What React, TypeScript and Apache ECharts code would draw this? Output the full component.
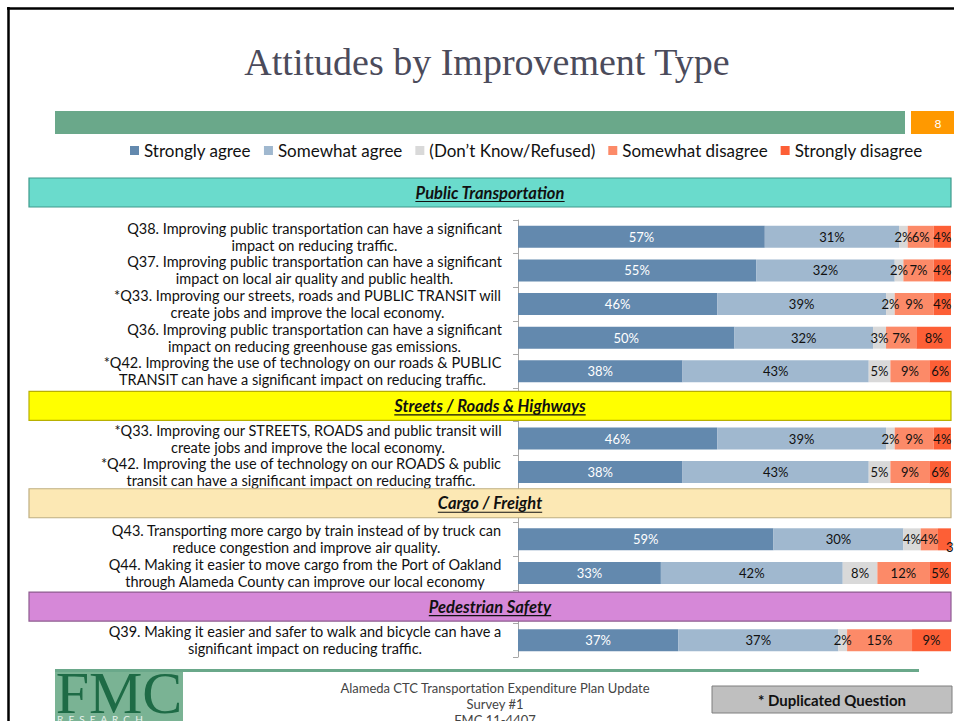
import React, { useEffect, useRef } from "react";
import * as echarts from "echarts";

const seriesNames = [
  "Strongly agree",
  "Somewhat agree",
  "(Don\u2019t Know/Refused)",
  "Somewhat disagree",
  "Strongly disagree",
];
const seriesColors = ["#6389AE", "#A0B8CF", "#D9D9D9", "#FC8A68", "#FD5F36"];
const labelColors = ["#FFFFFF", "#111111", "#111111", "#111111", "#111111"];

// "#Hn" entries are section header slots (no bars)
const categories = [
  "Q38. Improving public transportation can have a significant\nimpact on reducing traffic.",
  "Q37. Improving public transportation can have a significant\nimpact on local air quality and public health.",
  "*Q33. Improving our streets, roads and PUBLIC TRANSIT will\ncreate jobs and improve the local economy.",
  "Q36. Improving public transportation can have a significant\nimpact on reducing greenhouse gas emissions.",
  "*Q42. Improving the use of technology on our roads & PUBLIC\nTRANSIT can have a significant impact on reducing traffic.",
  "#H2",
  "*Q33. Improving our STREETS, ROADS and public transit will\ncreate jobs and improve the local economy.",
  "*Q42. Improving the use of technology on our ROADS & public\ntransit can have a significant impact on reducing traffic.",
  "#H3",
  "Q43. Transporting more cargo by train instead of by truck can\nreduce congestion and improve air quality.",
  "Q44. Making it easier to move cargo from the Port of Oakland\nthrough Alameda County can improve our local economy",
  "#H4",
  "Q39. Making it easier and safer to walk and bicycle can have a\nsignificant impact on reducing traffic.",
];

const stronglyAgree = [57, 55, 46, 50, 38, null, 46, 38, null, 59, 33, null, 37];
const somewhatAgree = [31, 32, 39, 32, 43, null, 39, 43, null, 30, 42, null, 37];
const dontKnow = [2, 2, 2, 3, 5, null, 2, 5, null, 4, 8, null, 2];
const somewhatDisagree = [6, 7, 9, 7, 9, null, 9, 9, null, 4, 12, null, 15];
const stronglyDisagree = [4, 4, 4, 8, 6, null, 4, 6, null, 3, 5, null, 9];
const seriesValues = [stronglyAgree, somewhatAgree, dontKnow, somewhatDisagree, stronglyDisagree];

const sectionTitles = [
  "Public Transportation",
  "Streets / Roads & Highways",
  "Cargo / Freight",
  "Pedestrian Safety",
];
const sectionKeys = ["", "#H2", "#H3", "#H4"];
const sectionNudge = [0, 1, -2.5, 0];
const sectionFills = ["#6ADBCC", "#FFFF00", "#FCE8B4", "#D688D8"];
const sectionStrokes = ["#3E9A8C", "#B8B000", "#BFAE80", "#8E5C90"];

const FONT = "Lato, 'Open Sans', sans-serif";
const CAT_FS = 14.5;

function measure(text: string, font: string): number {
  const c = document.createElement("canvas").getContext("2d");
  if (!c) return text.length * 7;
  c.font = font;
  return c.measureText(text).width;
}

export default function App() {
  const ref = useRef<HTMLDivElement>(null);

  useEffect(() => {
    if (!ref.current) return;
    const chart = echarts.init(ref.current, null, { renderer: "svg" });

    // category label blocks: right-aligned block, lines centred within it
    const rich: Record<string, any> = {};
    categories.forEach((c, i) => {
      const lines = c.split("\n");
      const w = Math.max(...lines.map((l) => measure(l, `${CAT_FS}px Lato`)));
      rich["c" + i] = {
        width: Math.ceil(w) + 2,
        align: "center",
        fontSize: CAT_FS,
        lineHeight: 17,
        fontFamily: FONT,
        color: "#111",
      };
    });

    const series = seriesNames.map((name, i) => ({
      name,
      type: "bar",
      stack: "total",
      barWidth: 22,
      itemStyle: { color: seriesColors[i] },
      label: {
        show: true,
        position: "inside",
        formatter: (p: any) => (p.value == null ? "" : p.value + "%"),
        color: labelColors[i],
        fontSize: 13,
        fontFamily: FONT,
      },
      data: seriesValues[i].map((v, j) =>
        i === 4 && j === 9
          ? { value: v, label: { position: "right", offset: [-10, 8] } }
          : v
      ),
    }));

    chart.setOption({
      animation: false,
      backgroundColor: "#FFFFFF",
      legend: {
        data: seriesNames,
        top: 137,
        left: 125,
        icon: "rect",
        itemWidth: 9,
        itemHeight: 9,
        itemGap: 13,
        textStyle: { fontSize: 17, fontFamily: FONT, color: "#111" },
      },
      grid: { left: 518, top: 220, width: 433, height: 437, containLabel: false },
      xAxis: { type: "value", min: 0, max: 100, show: false },
      yAxis: {
        type: "category",
        inverse: true,
        data: categories,
        axisLine: { show: true, lineStyle: { color: "#A6A6A6" } },
        axisTick: { show: true, length: 5, interval: 0, lineStyle: { color: "#A6A6A6" } },
        splitLine: { show: false },
        axisLabel: {
          interval: 0,
          formatter: (v: string, idx: number) =>
            v.startsWith("#H")
              ? ""
              : v
                  .split("\n")
                  .map((l) => `{c${idx}|${l}}`)
                  .join("\n"),
          align: "right",
          margin: 15,
          fontSize: CAT_FS,
          lineHeight: 17,
          color: "#111",
          fontFamily: FONT,
          rich,
        },
      },
      series,
    });

    const headerFont = `italic bold 16.5px ${FONT}`;
    const graphics: any[] = [];
    // slide border
    graphics.push({ type: "line", z: 200, shape: { x1: 7, y1: 8.5, x2: 954, y2: 8.5 }, style: { stroke: "#000", lineWidth: 2.5 } });
    graphics.push({ type: "line", z: 200, shape: { x1: 8.5, y1: 7, x2: 8.5, y2: 721 }, style: { stroke: "#000", lineWidth: 2.5 } });
    // title
    graphics.push({
      type: "text", z: 200, x: 487, y: 62,
      style: { text: "Attitudes by Improvement Type", font: "normal 38px 'Liberation Serif', serif", fill: "#4B4B5B", align: "center", verticalAlign: "middle" },
    });
    // green band + page number
    graphics.push({ type: "rect", z: 200, shape: { x: 55, y: 111, width: 850, height: 23 }, style: { fill: "#6AA88A" } });
    graphics.push({ type: "rect", z: 200, shape: { x: 911, y: 111, width: 43, height: 23 }, style: { fill: "#FF9900" } });
    graphics.push({ type: "text", z: 201, x: 938, y: 123, style: { text: "8", font: `12px ${FONT}`, fill: "#FFFFFF", align: "center", verticalAlign: "middle" } });

    // section headers
    sectionTitles.forEach((title, i) => {
      let cy = 192.5;
      if (sectionKeys[i]) {
        const p = chart.convertToPixel({ yAxisIndex: 0 } as any, sectionKeys[i]) as any;
        cy = (typeof p === "number" ? p : p[1]) + sectionNudge[i];
      }
      const h = 29;
      graphics.push({
        type: "rect", z: 150,
        shape: { x: 29, y: cy - h / 2, width: 922, height: h },
        style: { fill: sectionFills[i], stroke: sectionStrokes[i], lineWidth: 1.2 },
      });
      const w = measure(title, headerFont);
      graphics.push({
        type: "text", z: 151, x: 490, y: cy,
        style: { text: title, font: headerFont, fill: "#111", align: "center", verticalAlign: "middle" },
      });
      graphics.push({
        type: "line", z: 151,
        shape: { x1: 490 - w / 2, y1: cy + 9, x2: 490 + w / 2, y2: cy + 9 },
        style: { stroke: "#111", lineWidth: 1.2 },
      });
    });

    // footer
    graphics.push({ type: "rect", z: 200, shape: { x: 55, y: 669, width: 864, height: 3 }, style: { fill: "#6AA88A" } });
    graphics.push({ type: "rect", z: 201, shape: { x: 55, y: 672, width: 128, height: 49 }, style: { fill: "#7AB394" } });
    graphics.push({
      type: "text", z: 202, x: 119, y: 663,
      style: { text: "FMC", font: "normal 60px 'Liberation Serif', serif", fill: "#1E6B46", align: "center", verticalAlign: "top" },
    });
    graphics.push({
      type: "text", z: 203, x: 57, y: 719,
      style: { text: "R  E  S  E  A  R  C  H", font: `10px ${FONT}`, fill: "#E8F2EC", align: "left", verticalAlign: "middle" },
    });
    const footLines = ["Alameda CTC Transportation Expenditure Plan Update", "Survey #1", "FMC 11-4407"];
    footLines.forEach((t, i) => {
      graphics.push({
        type: "text", z: 200, x: 495, y: 688 + i * 16,
        style: { text: t, font: `13px ${FONT}`, fill: "#444", align: "center", verticalAlign: "middle" },
      });
    });
    graphics.push({ type: "rect", z: 200, shape: { x: 712, y: 686, width: 240, height: 27 }, style: { fill: "#BFBFBF", stroke: "#7F7F7F", lineWidth: 1 } });
    graphics.push({
      type: "text", z: 201, x: 832, y: 700,
      style: { text: "* Duplicated Question", font: `bold 15px ${FONT}`, fill: "#111", align: "center", verticalAlign: "middle" },
    });

    chart.setOption({ graphic: { elements: graphics } });

    return () => chart.dispose();
  }, []);

  return (
    <div
      ref={ref}
      style={{ position: "fixed", left: 0, top: 0, width: 954, height: 721, background: "#fff" }}
    />
  );
}
